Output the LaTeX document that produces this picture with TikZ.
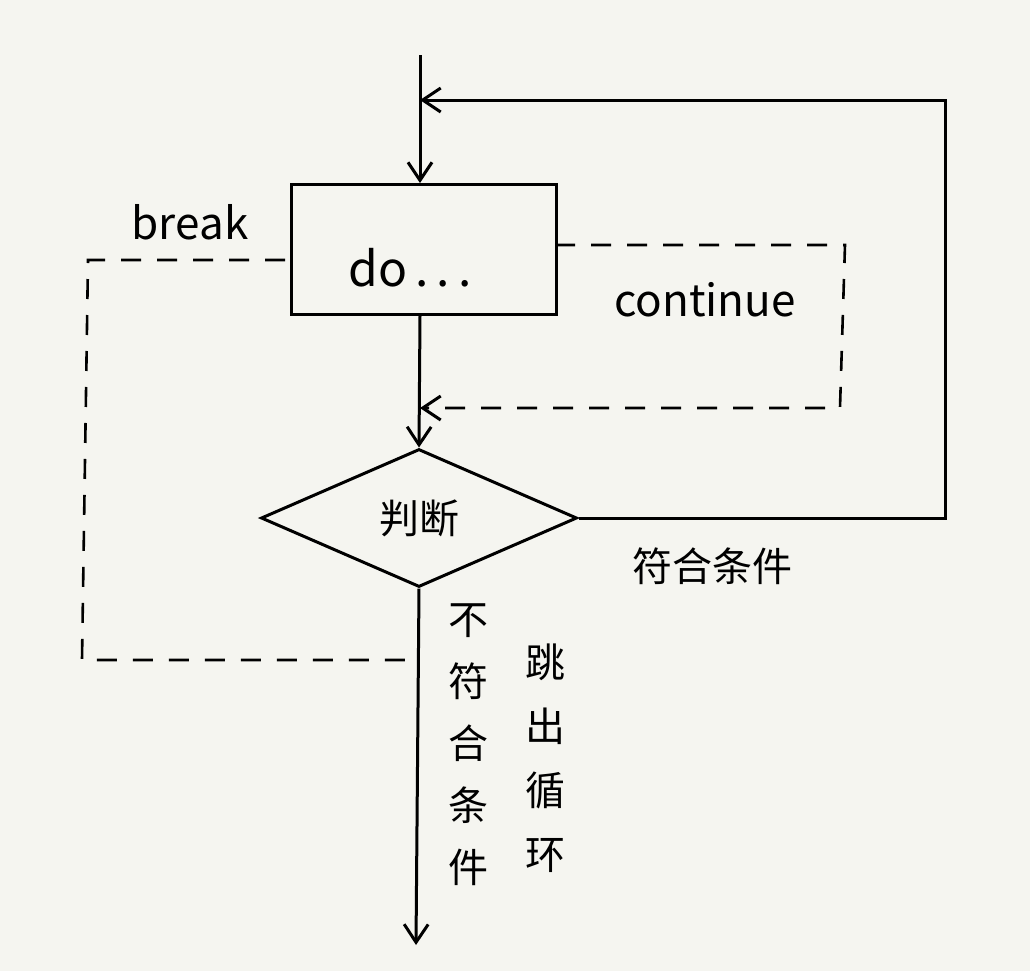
\documentclass[tikz,border=0pt]{standalone}
\usepackage{fontspec}
\setmainfont{Noto Sans CJK SC}
\usetikzlibrary{shapes.geometric,arrows.meta}
\definecolor{bg}{HTML}{F5F5F0}
\begin{document}
\begin{tikzpicture}[x=0.5pt,y=-0.5pt,
  ln/.style={line width=1.5pt,black},
  dl/.style={line width=1.3pt,black,dash pattern=on 10pt off 8pt},
  arr/.style={-{Straight Barb[length=9pt,width=12pt,line width=1.5pt]}},
  lbl/.style={font=\fontsize{20pt}{22pt}\selectfont}]
\fill[bg] (0,0) rectangle (1030,971);
\useasboundingbox (0,0) rectangle (1030,971);
\coordinate (top) at (420,55);
\node[draw,ln,minimum width=132.5pt,minimum height=65pt,anchor=north west,lbl,text depth=0pt,yshift=-0pt] (box) at (290,183) {};
\node[lbl,font=\fontsize{24pt}{26pt}\selectfont] (dotext) at (410,268) {do\,.\,.\,.};
\node[draw,ln,diamond,aspect=2.3,minimum width=158pt,minimum height=69pt,inner sep=0pt,lbl] (dec) at (419,518) {判断};
\draw[ln,arr] (top) -- (box.north -| top);
\draw[ln,arr] (box.south -| top) -- (dec.north);
\coordinate (r1) at (945,518);
\coordinate (r2) at (945,100);
\coordinate (r3) at (420,100);
\draw[ln,arr] (dec.east) -- (r1) -- (r2) -- (r3);
\coordinate (c0) at (555,245);
\coordinate (c1) at (845,245);
\coordinate (c2) at (840,408);
\coordinate (c3) at (420,408);
\draw[dl,arr] (c0) -- (c1) -- (c2) -- (c3);
\coordinate (b0) at (285,260);
\coordinate (b1) at (88,260);
\coordinate (b2) at (82,660);
\coordinate (b3) at (415,660);
\draw[dl] (b0) -- (b1) -- (b2) -- (b3);
\coordinate (end) at (416,945);
\draw[ln,arr] (dec.south) -- (end);
\node[lbl,font=\fontsize{22pt}{24pt}\selectfont] (brk) at (190,222) {break};
\node[lbl,font=\fontsize{22pt}{24pt}\selectfont] (cont) at (705,300) {continue};
\node[lbl] (yes) at (712,566) {符合条件};
\node[lbl,align=center,text width=25pt,font=\fontsize{20pt}{31pt}\selectfont] (no) at (468,745) {不\\符\\合\\条\\件};
\node[lbl,align=center,text width=25pt,font=\fontsize{20pt}{32pt}\selectfont] (out) at (545,758) {跳\\出\\循\\环};
\end{tikzpicture}
\end{document}
